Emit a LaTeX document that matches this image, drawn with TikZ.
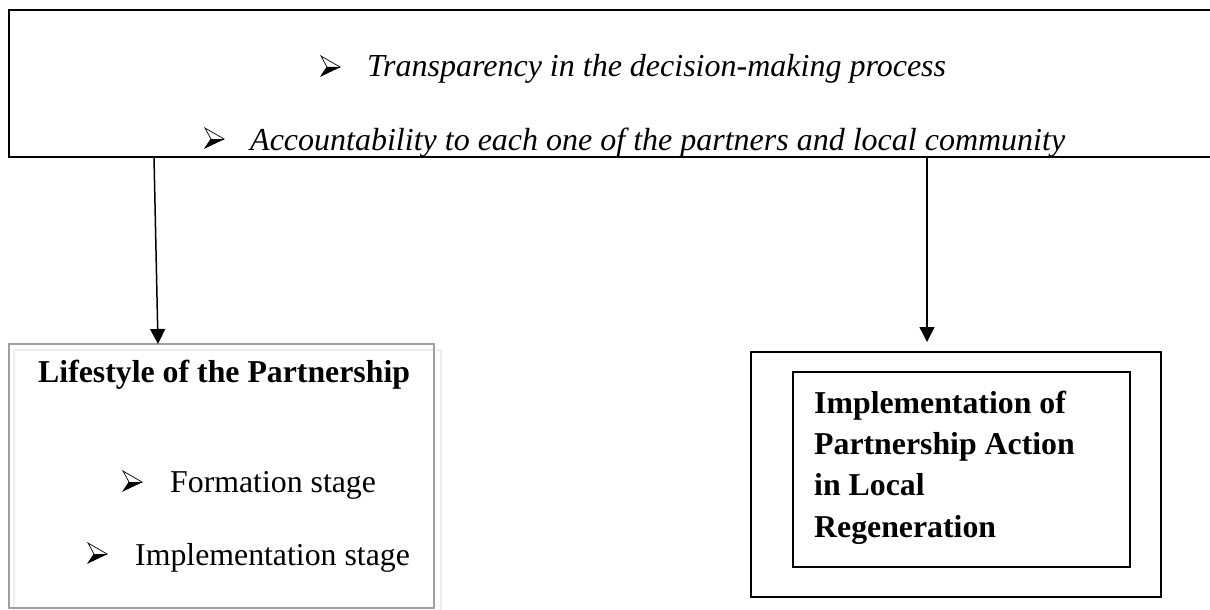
\documentclass[tikz,border=0pt]{standalone}
\usepackage{fontspec}
\setmainfont{Liberation Serif}
\usetikzlibrary{arrows.meta}

\tikzset{
  frame/.style={draw, rectangle, inner sep=0pt, outer sep=0pt, anchor=north west},
  arr/.style={line width=1.5pt, -{Triangle[width=15pt,length=15pt]}},
  toptext/.style={anchor=base west, inner sep=0pt, font=\fontsize{32}{41.3}\selectfont\itshape},
  boldtext/.style={anchor=base west, inner sep=0pt, font=\fontsize{31.8}{41.3}\selectfont\bfseries},
  plaintext/.style={anchor=base west, inner sep=0pt, font=\fontsize{31.8}{41.3}\selectfont},
  pics/arrowbullet/.style={code={
    \fill[white] (0,-10) -- (19,1) -- (6,1) -- cycle;
    \fill[black] (6,1) -- (19,1) -- (0,10) -- cycle;
    \draw[line width=0.7pt, line join=miter] (0,-10) -- (19,1) -- (0,10) -- (6,1) -- cycle;
    \draw[line width=0.5pt] (6,1) -- (19,1);
  }}
}
\definecolor{framedark}{HTML}{A0A0A0}
\definecolor{framelight}{HTML}{EEEEEE}

\begin{document}
\begin{tikzpicture}[x=1pt, y=-1pt]
  \useasboundingbox (0,0) rectangle (1210,610);
  \clip (0,0) rectangle (1210,610);

  % principles box across the top
  \node[frame, line width=2.5pt, minimum width=1240pt, minimum height=147pt] (top) at (9,10) {};
  \pic at (321,66) {arrowbullet};
  \node[toptext] (t1) at (367,77) {Transparency in the decision-making process};
  \pic at (205,138) {arrowbullet};
  \node[toptext] (t2) at (250,150) {Accountability to each one of the partners and local community};

  % lifestyle box with a grooved grey border
  \node[frame, draw=framelight, line width=1.5pt, minimum width=427pt, minimum height=264pt] (lifeshade) at (14,350) {};
  \node[frame, draw=framedark, line width=2pt, minimum width=425pt, minimum height=264pt] (life) at (9,344) {};
  \node[boldtext] (lt) at (38,382) {Lifestyle of the Partnership};
  \pic at (123,481) {arrowbullet};
  \node[plaintext] (l1) at (170,492) {Formation stage};
  \pic at (88,553) {arrowbullet};
  \node[plaintext] (l2) at (135,565) {Implementation stage};

  % implementation box, double frame
  \node[frame, line width=2pt, minimum width=410pt, minimum height=245pt] (outer) at (751,352) {};
  \node[frame, line width=2pt, minimum width=337pt, minimum height=195pt] (inner) at (793,372) {};
  \node[boldtext, align=left] (it) at (814,537) {Implementation of\\Partnership Action\\in Local\\Regeneration};

  % connectors
  \draw[arr] ([xshift=145pt]top.south west) -- ([xshift=149pt]life.north west);
  \draw[arr] ([xshift=918pt]top.south west) -- ([xshift=176pt,yshift=10pt]outer.north west);
\end{tikzpicture}
\end{document}
